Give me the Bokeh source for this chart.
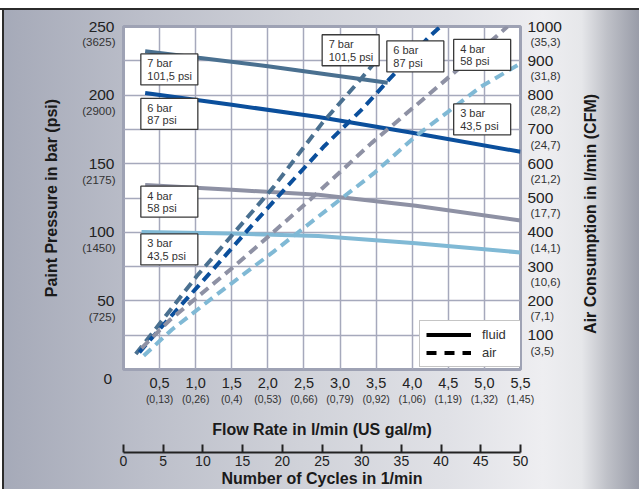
from bokeh.plotting import figure
from bokeh.models import (Range1d, LinearAxis, FixedTicker, ColumnDataSource,
                          LabelSet, Label, Legend, LegendItem)
from bokeh.layouts import column
from bokeh.embed import file_html
from bokeh.resources import INLINE
from bokeh.core.properties import value

FONT = "Liberation Sans"

# ---------------- data ----------------
series_names = ["7 bar", "6 bar", "4 bar", "3 bar"]
series_psi = ["101,5 psi", "87 psi", "58 psi", "43,5 psi"]
series_colors = ["#4a7090", "#0b4f9c", "#8e91a4", "#80b9d5"]

# fluid pressure (bar) vs flow rate (l/min)
fluid_x_7 = [0.3, 2.0, 3.66]
fluid_p_7 = [232, 221, 209]
fluid_x_6 = [0.3, 1.5, 2.7, 4.0, 5.5]
fluid_p_6 = [201.5, 193, 184, 172.5, 158.7]
fluid_x_4 = [0.3, 1.5, 2.7, 4.05, 5.5]
fluid_p_4 = [134.5, 131, 127.3, 119.4, 108.6]
fluid_x_3 = [0.25, 1.5, 2.7, 4.05, 5.5]
fluid_p_3 = [100.3, 99.1, 97.3, 92.0, 85.3]

# air consumption (l/min) vs flow rate (l/min)
air_x_7 = [0.17, 0.51, 1.01, 1.6, 2.075, 2.755, 3.277, 3.5]
air_q_7 = [45, 136, 271, 415, 531, 719, 844, 900]
air_x_6 = [0.22, 0.555, 1.235, 1.758, 2.256, 2.78, 3.32, 3.66, 4.23, 4.39]
air_q_6 = [50, 131, 290, 415, 531, 651, 762, 841, 969, 1000]
air_x_4 = [0.25, 0.646, 1.53, 2.506, 3.435, 4.18, 5.18, 5.32]
air_q_4 = [62, 145, 300, 480, 660, 793, 974, 1000]
air_x_3 = [0.28, 0.669, 1.258, 2.075, 2.687, 3.48, 4.047, 4.5, 4.955, 5.5]
air_q_3 = [40, 116, 213, 343, 444, 574, 680, 752, 825, 892]

# axis ticks and labels
flow_ticks = [0.5, 1.0, 1.5, 2.0, 2.5, 3.0, 3.5, 4.0, 4.5, 5.0, 5.5]
flow_labels = ["0,5", "1,0", "1,5", "2,0", "2,5", "3,0", "3,5", "4,0", "4,5", "5,0", "5,5"]
gal_labels = ["(0,13)", "(0,26)", "(0,4)", "(0,53)", "(0,66)", "(0,79)", "(0,92)",
              "(1,06)", "(1,19)", "(1,32)", "(1,45)"]
bar_ticks = [50, 100, 150, 200, 250]
psi_tick_labels = ["(725)", "(1450)", "(2175)", "(2900)", "(3625)"]
bar_grid = [25, 50, 75, 100, 125, 150, 175, 200, 225]
air_ticks = [100, 200, 300, 400, 500, 600, 700, 800, 900, 1000]
cfm_labels = ["(3,5)", "(7,1)", "(10,6)", "(14,1)", "(17,7)", "(21,2)", "(24,7)",
              "(28,2)", "(31,8)", "(35,3)"]
cycle_ticks = [0, 5, 10, 15, 20, 25, 30, 35, 40, 45, 50]

# curve label boxes (anchor in flow / bar units)
box_x = [0.635, 0.635, 0.635, 0.635, 3.147, 4.043, 4.969, 4.969]
box_y = [218.7, 186.3, 122.3, 87.5, 232.7, 228.2, 229.3, 182.3]
box_line1 = ["7 bar", "6 bar", "4 bar", "3 bar", "7 bar", "6 bar", "4 bar", "3 bar"]
box_line2 = ["101,5 psi", "87 psi", "58 psi", "43,5 psi", "101,5 psi", "87 psi", "58 psi", "43,5 psi"]

# secondary (unit-converted) labels sit ~16 px below the main ones
SUB_SHIFT_BAR = 11.56
SUB_SHIFT_AIR = 44.8

# ---------------- main figure ----------------
p = figure(width=639, height=440, x_range=Range1d(0, 5.5), y_range=Range1d(0, 250),
           output_backend="svg", toolbar_location=None,
           min_border_left=123, min_border_right=112, min_border_top=26, min_border_bottom=68,
           background_fill_color="white", border_fill_color=None,
           outline_line_color="#9ea2b4", outline_line_width=3)
p.extra_y_ranges = {"air": Range1d(0, 1000)}

p.xgrid.ticker = FixedTicker(ticks=flow_ticks[:-1])
p.ygrid.ticker = FixedTicker(ticks=bar_grid)
p.grid.grid_line_color = "#a6a9bc"
p.grid.grid_line_width = 1.5

def style_axis(ax, size, color="#222222"):
    ax.axis_line_color = None
    ax.major_tick_line_color = None
    ax.minor_tick_line_color = None
    ax.major_tick_out = 0
    ax.major_tick_in = 0
    ax.major_label_text_font = FONT
    ax.major_label_text_font_size = size
    ax.major_label_text_color = color
    ax.axis_label_text_font = FONT
    ax.axis_label_text_font_size = "16px"
    ax.axis_label_text_font_style = "bold"
    ax.axis_label_text_color = "#1a1a1a"

# bottom: flow rate labels, then US gal/m labels with the title
xa = p.xaxis[0]
style_axis(xa, "14.5px")
xa.ticker = FixedTicker(ticks=flow_ticks)
xa.major_label_overrides = dict(zip(flow_ticks, flow_labels))
xa.major_label_standoff = 8

xg = LinearAxis(ticker=FixedTicker(ticks=flow_ticks))
style_axis(xg, "10.5px", "#333333")
xg.major_label_overrides = dict(zip(flow_ticks, gal_labels))
xg.major_label_standoff = 2
xg.axis_label = "Flow Rate in l/min (US gal/m)"
xg.axis_label_standoff = 13
p.add_layout(xg, "below")

# left: psi labels (inner) and bar labels (outer) sharing the same column
psi_pos = [v - SUB_SHIFT_BAR for v in bar_ticks]
ys = p.yaxis[0]
style_axis(ys, "11.5px", "#333333")
ys.ticker = FixedTicker(ticks=psi_pos)
ys.major_label_overrides = dict(zip(psi_pos, psi_tick_labels))
ys.major_label_standoff = 8

ya = LinearAxis(ticker=FixedTicker(ticks=bar_ticks))
style_axis(ya, "15.5px")
ya.major_label_standoff = -35
ya.axis_label = "Paint Pressure in bar (psi)"
ya.axis_label_standoff = 26
p.add_layout(ya, "left")
p.add_layout(Label(x=0, y=0, text="0", x_offset=-11.3, y_offset=-9, text_align="right",
                   text_baseline="middle", text_font=FONT, text_font_size="15.5px",
                   text_color="#222222"), "left")

# right: l/min labels (inner) and CFM labels (outer) sharing the same column
ra = LinearAxis(y_range_name="air", ticker=FixedTicker(ticks=air_ticks))
style_axis(ra, "15.5px")
ra.major_label_standoff = 7
p.add_layout(ra, "right")

cfm_pos = [v - SUB_SHIFT_AIR for v in air_ticks]
rs = LinearAxis(y_range_name="air", ticker=FixedTicker(ticks=cfm_pos))
style_axis(rs, "11.5px", "#333333")
rs.major_label_overrides = dict(zip(cfm_pos, cfm_labels))
rs.major_label_standoff = -34
p.add_layout(rs, "right")

p.add_layout(Label(x=5.5, y=113.4, text="Air Consumption in l/min (CFM)", x_offset=70,
                   angle=90, angle_units="deg", text_align="center", text_baseline="middle",
                   text_font=FONT, text_font_size="16px", text_font_style="bold",
                   text_color="#1a1a1a"), "right")

# fluid lines
fluid = [(fluid_x_7, fluid_p_7), (fluid_x_6, fluid_p_6), (fluid_x_4, fluid_p_4), (fluid_x_3, fluid_p_3)]
for (xs, yv), c in zip(fluid, series_colors):
    p.line(xs, yv, line_color=c, line_width=4)

# air lines
air = [(air_x_7, air_q_7), (air_x_6, air_q_6), (air_x_4, air_q_4), (air_x_3, air_q_3)]
for (xs, yv), c in zip(air, series_colors):
    p.line(xs, yv, line_color=c, line_width=4, line_dash="10 6", y_range_name="air")

# curve label boxes
box_src = ColumnDataSource(dict(x=box_x, y=box_y, t1=box_line1, t2=box_line2))
p.rect(x="x", y="y", width=57, height=31, width_units="screen", height_units="screen",
       source=box_src, fill_color="white", line_color="#3a3a3a", line_width=1.3)
for col, off in (("t1", 6), ("t2", -6.5)):
    p.add_layout(LabelSet(x="x", y="y", text=col, source=box_src, x_offset=-22, y_offset=off,
                          text_align="left", text_baseline="middle", text_font=value(FONT),
                          text_font_size="11px", text_color="#333333"))

# legend (black key lines, hidden renderers)
fl = p.line(fluid_x_7, fluid_p_7, line_color="black", line_width=4, visible=False)
al = p.line(fluid_x_7, fluid_p_7, line_color="black", line_width=4, line_dash="10 8", visible=False)
legend = Legend(items=[LegendItem(label="fluid", renderers=[fl]), LegendItem(label="air", renderers=[al])],
                location=(296, 2), glyph_width=45, glyph_height=13, label_height=13, label_width=35,
                label_standoff=11, padding=6, spacing=3, margin=0,
                label_text_font=FONT, label_text_font_size="13px", label_text_color="#333333",
                border_line_color="#8c8c8c", border_line_width=1.5,
                background_fill_color="white", background_fill_alpha=1,
                inactive_fill_alpha=0)
p.add_layout(legend)

# ---------------- cycles scale ----------------
p2 = figure(width=639, height=49, x_range=Range1d(0, 50), y_range=Range1d(0, 1),
            output_backend="svg", toolbar_location=None, y_axis_location=None,
            min_border_left=123, min_border_right=119, min_border_top=0, min_border_bottom=0,
            background_fill_color=None, border_fill_color=None, outline_line_color=None)
p2.grid.visible = False
ca = p2.xaxis[0]
ca.ticker = FixedTicker(ticks=cycle_ticks)
ca.axis_line_color = "#222222"
ca.axis_line_width = 2
ca.major_tick_line_color = "#222222"
ca.major_tick_line_width = 2
ca.major_tick_in = 8
ca.major_tick_out = 0
ca.minor_tick_line_color = None
ca.major_label_standoff = 3
ca.major_label_text_font = FONT
ca.major_label_text_font_size = "14px"
ca.major_label_text_color = "#222222"
ca.axis_label = "Number of Cycles in 1/min"
ca.axis_label_standoff = 1
ca.axis_label_text_font = FONT
ca.axis_label_text_font_size = "16px"
ca.axis_label_text_font_style = "bold"
ca.axis_label_text_color = "#1a1a1a"

layout = column(p, p2, spacing=0, styles={
    "background": (
        "linear-gradient(180deg, #ffffff 0px, #ffffff 8px, #2b2b2b 8px, #2b2b2b 10px, rgba(0,0,0,0) 10px), "
        "linear-gradient(90deg, #ffffff 0px, #ffffff 2px, #2b2b2b 2px, #2b2b2b 4px, rgba(0,0,0,0) 4px), "
        "linear-gradient(90deg, #a4a9b8 0%, #a8acba 3%, #bcbfca 23%, #d0d2d9 47%, #e0e1e6 70%, "
        "#eeeef1 85%, #e6e7ea 91%, #bfc1c8 95%, #999ca8 100%)"
    ),
})

open("out.html", "w").write(file_html(layout, INLINE))
